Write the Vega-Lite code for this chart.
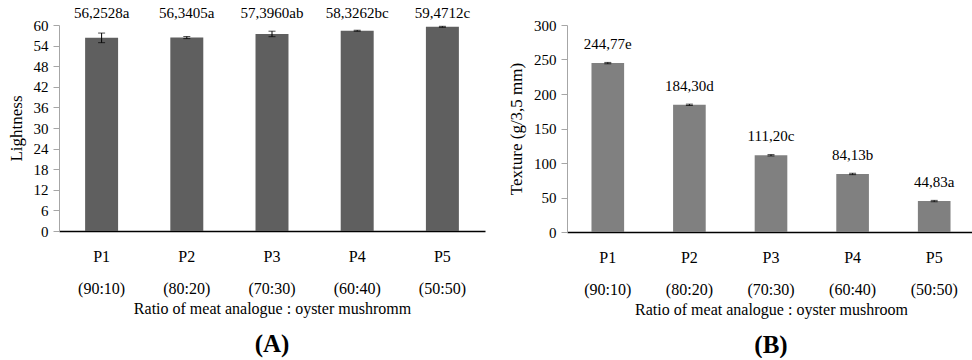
{
  "$schema": "https://vega.github.io/schema/vega-lite/v6.json",
  "padding": {"left": 7, "top": 6, "right": 0, "bottom": 0},
  "background": "white",
  "spacing": 22,
  "config": {
    "font": "Liberation Serif",
    "view": {"stroke": null},
    "text": {"font": "Liberation Serif"},
    "axis": {
      "labelFont": "Liberation Serif",
      "titleFont": "Liberation Serif",
      "labelFontSize": 16,
      "titleFontSize": 16,
      "titleFontWeight": "normal",
      "labelColor": "#000",
      "titleColor": "#000",
      "grid": false,
      "labelOverlap": false
    },
    "axisY": {"domainColor": "#a6a6a6", "tickColor": "#a6a6a6", "tickSize": 6, "labelPadding": 5, "titlePadding": 8, "labelFontSize": 15, "titleFontSize": 17},
    "axisX": {"domainColor": "#000", "domainWidth": 1.5, "ticks": false, "labelAngle": 0, "labelPadding": 17, "labelLineHeight": 32, "titlePadding": 4},
    "title": {"font": "Liberation Serif", "fontSize": 25, "fontWeight": "bold", "color": "#000", "orient": "bottom", "offset": 16}
  },
  "hconcat": [
    {
      "width": 426,
      "height": 206,
      "title": {"text": "(A)"},
      "data": {"values": [
        {"group": "P1|(90:10)", "value": 56.2528, "err": 1.4, "label": "56,2528a"},
        {"group": "P2|(80:20)", "value": 56.3405, "err": 0.3, "label": "56,3405a"},
        {"group": "P3|(70:30)", "value": 57.396, "err": 0.8, "label": "57,3960ab"},
        {"group": "P4|(60:40)", "value": 58.3262, "err": 0.15, "label": "58,3262bc"},
        {"group": "P5|(50:50)", "value": 59.4712, "err": 0.15, "label": "59,4712c"}
      ]},
      "encoding": {
        "x": {
          "field": "group", "type": "nominal", "sort": null,
          "scale": {"paddingInner": 0.613, "paddingOuter": 0.3065},
          "axis": {"labelExpr": "split(datum.label, '|')", "title": "Ratio of meat analogue : oyster mushromm"}
        }
      },
      "layer": [
        {
          "mark": {"type": "bar", "color": "#5f5f5f"},
          "encoding": {
            "y": {"field": "value", "type": "quantitative", "scale": {"domain": [0, 60]},
                  "axis": {"values": [0, 6, 12, 18, 24, 30, 36, 42, 48, 54, 60], "title": "Lightness"}}
          }
        },
        {
          "mark": {"type": "errorbar", "color": "#000", "ticks": {"size": 7}, "thickness": 1},
          "encoding": {
            "y": {"field": "value", "type": "quantitative",
                  "axis": {"values": [0, 6, 12, 18, 24, 30, 36, 42, 48, 54, 60], "title": "Lightness"}},
            "yError": {"field": "err"}
          }
        },
        {
          "mark": {"type": "text", "fontSize": 15, "baseline": "middle", "color": "#000", "font": "Liberation Serif"},
          "encoding": {
            "y": {"datum": 63.4, "type": "quantitative",
                  "axis": {"values": [0, 6, 12, 18, 24, 30, 36, 42, 48, 54, 60], "title": "Lightness"}},
            "text": {"field": "label"}
          }
        }
      ]
    },
    {
      "width": 408,
      "height": 207,
      "title": {"text": "(B)"},
      "data": {"values": [
        {"group": "P1|(90:10)", "value": 244.77, "err": 1.0, "label": "244,77e"},
        {"group": "P2|(80:20)", "value": 184.3, "err": 1.0, "label": "184,30d"},
        {"group": "P3|(70:30)", "value": 111.2, "err": 1.0, "label": "111,20c"},
        {"group": "P4|(60:40)", "value": 84.13, "err": 1.0, "label": "84,13b"},
        {"group": "P5|(50:50)", "value": 44.83, "err": 1.0, "label": "44,83a"}
      ]},
      "encoding": {
        "x": {
          "field": "group", "type": "nominal", "sort": null,
          "scale": {"paddingInner": 0.6, "paddingOuter": 0.3},
          "axis": {"labelExpr": "split(datum.label, '|')", "title": "Ratio of meat analogue : oyster mushroom"}
        }
      },
      "layer": [
        {
          "mark": {"type": "bar", "color": "#808080"},
          "encoding": {
            "y": {"field": "value", "type": "quantitative", "scale": {"domain": [0, 300]},
                  "axis": {"values": [0, 50, 100, 150, 200, 250, 300], "title": "Texture (g/3,5 mm)"}}
          }
        },
        {
          "mark": {"type": "errorbar", "color": "#000", "ticks": {"size": 7}, "thickness": 1},
          "encoding": {
            "y": {"field": "value", "type": "quantitative",
                  "axis": {"values": [0, 50, 100, 150, 200, 250, 300], "title": "Texture (g/3,5 mm)"}},
            "yError": {"field": "err"}
          }
        },
        {
          "mark": {"type": "text", "fontSize": 15, "baseline": "middle", "color": "#000", "dy": -19, "font": "Liberation Serif"},
          "encoding": {
            "y": {"field": "value", "type": "quantitative",
                  "axis": {"values": [0, 50, 100, 150, 200, 250, 300], "title": "Texture (g/3,5 mm)"}},
            "text": {"field": "label"}
          }
        }
      ]
    }
  ]
}
